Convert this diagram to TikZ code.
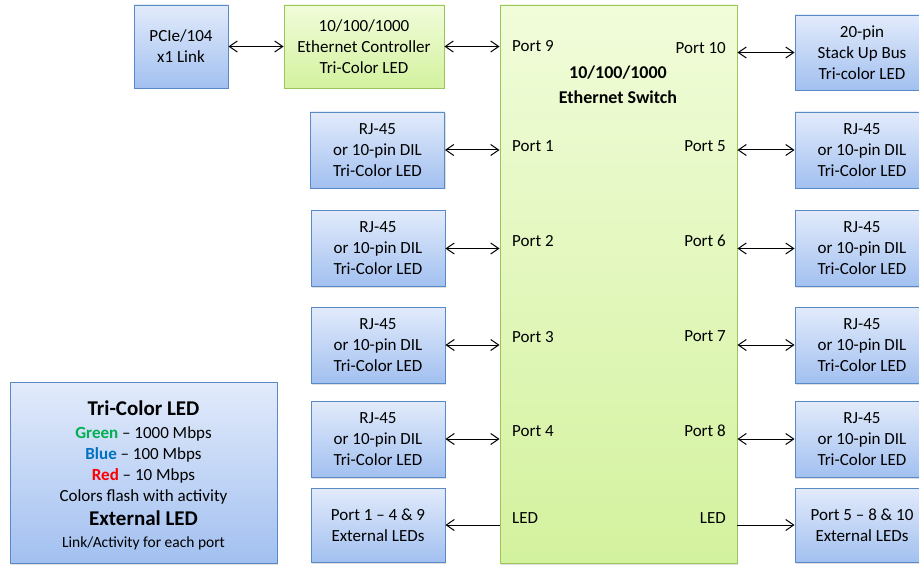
\documentclass[tikz,border=0pt]{standalone}
\usepackage{fontspec}
\setmainfont{Carlito}
\usetikzlibrary{arrows.meta,shadows}

\definecolor{bluetop}{HTML}{E2EBFB}
\definecolor{bluebot}{HTML}{A2C0F0}
\definecolor{blueline}{HTML}{5A8AC6}
\definecolor{greentop}{HTML}{F1FCDA}
\definecolor{greenbot}{HTML}{D3F29E}
\definecolor{greenline}{HTML}{9CC45C}
\definecolor{ledgreen}{HTML}{00B050}
\definecolor{ledblue}{HTML}{0070C0}
\definecolor{ledred}{HTML}{FF0000}

\begin{document}
\begin{tikzpicture}[x=1pt,y=-1pt,
		box/.style={draw=blueline, line width=0.9pt, top color=bluetop, bottom color=bluebot,
			drop shadow={opacity=0.25, shadow xshift=1.2pt, shadow yshift=-1.5pt},
			align=center, inner sep=0pt, font=\fontsize{17}{21}\selectfont},
		gbox/.style={box, draw=greenline, top color=greentop, bottom color=greenbot},
		rjbox/.style={box, minimum width=134, minimum height=76},
		port/.style={inner sep=0pt, font=\fontsize{17}{21}\selectfont},
		link/.style={line width=1pt, {Straight Barb[length=8pt,width=11pt]}-{Straight Barb[length=8pt,width=11pt]}},
		linkto/.style={line width=1pt, -{Straight Barb[length=8pt,width=11pt]}}]
	\useasboundingbox (0,0) rectangle (919,567);
	
	% switch in the middle
	\node[gbox, minimum width=237, minimum height=558] (sw) at (618.5,284) {};
	\node[port, align=center, font=\bfseries\fontsize{18}{25}\selectfont] (swname) at (618,85) {10/100/1000\\Ethernet Switch};
	
	% top row
	\node[box, minimum width=94, minimum height=83] (pcie) at (181,46.5) {PCIe/104\\x1 Link};
	\node[gbox, minimum width=160, minimum height=83] (ctrl) at (364,46.5) {10/100/1000\\Ethernet Controller\\Tri-Color LED};
	\node[box, minimum width=134, minimum height=75] (stack) at (862,52.5) {20-pin\\Stack Up Bus\\Tri-color LED};
	
	% left side ports
	\node[rjbox] (rj1) at (377.5,150) {RJ-45\\or 10-pin DIL\\Tri-Color LED};
	\node[rjbox] (rj2) at (378,248.5) {RJ-45\\or 10-pin DIL\\Tri-Color LED};
	\node[rjbox] (rj3) at (378,345) {RJ-45\\or 10-pin DIL\\Tri-Color LED};
	\node[rjbox] (rj4) at (378,439) {RJ-45\\or 10-pin DIL\\Tri-Color LED};
	\node[rjbox, minimum height=74] (ledl) at (378,525) {Port 1 -- 4 \& 9\\External LEDs};
	
	% right side ports
	\node[rjbox] (rj5) at (862,150) {RJ-45\\or 10-pin DIL\\Tri-Color LED};
	\node[rjbox] (rj6) at (862,248.5) {RJ-45\\or 10-pin DIL\\Tri-Color LED};
	\node[rjbox] (rj7) at (862,345) {RJ-45\\or 10-pin DIL\\Tri-Color LED};
	\node[rjbox] (rj8) at (862,439) {RJ-45\\or 10-pin DIL\\Tri-Color LED};
	\node[rjbox, minimum height=74] (ledr) at (862,525) {Port 5 -- 8 \& 10\\External LEDs};
	
	% port names inside the switch
	\node[port, anchor=west] (p9) at (512,46) {Port 9};
	\node[port, anchor=west] (p1) at (512,146) {Port 1};
	\node[port, anchor=west] (p2) at (512,241) {Port 2};
	\node[port, anchor=west] (p3) at (512,337) {Port 3};
	\node[port, anchor=west] (p4) at (512,431) {Port 4};
	\node[port, anchor=west] (pledl) at (512,518) {LED};
	\node[port, anchor=east] (p10) at (726,48) {Port 10};
	\node[port, anchor=east] (p5) at (726,146) {Port 5};
	\node[port, anchor=east] (p6) at (726,241) {Port 6};
	\node[port, anchor=east] (p7) at (726,336) {Port 7};
	\node[port, anchor=east] (p8) at (726,431) {Port 8};
	\node[port, anchor=east] (pledr) at (726,518) {LED};
	
	% links
	\draw[link] (pcie) -- (ctrl);
	\draw[link] (ctrl.east) -- (ctrl.east -| sw.west);
	\draw[link] (stack.west -| sw.east) -- (stack.west);
	\draw[link] (rj1.east) -- (rj1.east -| sw.west);
	\draw[link] (rj2.east) -- (rj2.east -| sw.west);
	\draw[link] (rj3.east) -- (rj3.east -| sw.west);
	\draw[link] (rj4.east) -- (rj4.east -| sw.west);
	\draw[link] (rj5.west -| sw.east) -- (rj5.west);
	\draw[link] (rj6.west -| sw.east) -- (rj6.west);
	\draw[link] (rj7.west -| sw.east) -- (rj7.west);
	\draw[link] (rj8.west -| sw.east) -- (rj8.west);
	\draw[linkto] (ledl.east -| sw.west) -- (ledl.east);
	\draw[linkto] (ledr.west -| sw.east) -- (ledr.west);
	
	% legend
	\node[box, minimum width=267, minimum height=181] (legend) at (143.5,472.5) {};
	\node[port, align=center] (legtext) at (143.5,475) {{\bfseries\fontsize{21}{23}\selectfont Tri-Color LED}\\[2pt]
		{\color{ledgreen}\bfseries Green} -- 1000 Mbps\\
		{\color{ledblue}\bfseries Blue} -- 100 Mbps\\
		{\color{ledred}\bfseries Red} -- 10 Mbps\\
		Colors flash with activity\\[3pt]
		{\bfseries\fontsize{21}{23}\selectfont External LED}\\[1pt]
		{\fontsize{15.5}{18}\selectfont Link/Activity for each port}};
\end{tikzpicture}
\end{document}
